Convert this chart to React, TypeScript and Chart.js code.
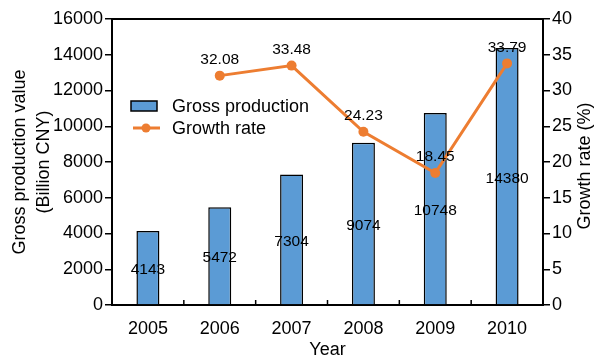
import React, { useEffect, useRef } from "react";
import { Chart, registerables } from "chart.js";

Chart.register(...registerables);

const years = ["2005", "2006", "2007", "2008", "2009", "2010"];
const grossProduction = [4143, 5472, 7304, 9074, 10748, 14380];
const growthRate: (number | null)[] = [null, 32.08, 33.48, 24.23, 18.45, 33.79];
const growthLabels = ["", "32.08", "33.48", "24.23", "18.45", "33.79"];
const barLabels = ["4143", "5472", "7304", "9074", "10748", "14380"];
const leftTitle = ["Gross production value", "(Billion CNY)"];
const rightTitle = "Growth rate (%)";

const BLUE = "#5B9BD5";
const ORANGE = "#ED7D31";
const FONT = "'Liberation Sans', Arial, sans-serif";

const decorPlugin = {
  id: "decor",
  afterDatasetsDraw(chart: any) {
    const ctx = chart.ctx;
    const { left, right, top, bottom } = chart.chartArea;
    const x = chart.scales.x;
    const yR = chart.scales.y1;
    const yL = chart.scales.y;
    ctx.save();
    // top frame line
    ctx.strokeStyle = "#000";
    ctx.lineWidth = 2;
    ctx.beginPath();
    ctx.moveTo(left, top);
    ctx.lineTo(right, top);
    ctx.stroke();
    // x ticks between categories, pointing inward
    const n = years.length;
    const step = (right - left) / n;
    ctx.lineWidth = 1.5;
    for (let i = 1; i < n; i++) {
      const px = x.getPixelForValue(i) - step / 2;
      ctx.beginPath();
      ctx.moveTo(px, bottom);
      ctx.lineTo(px, bottom - 5);
      ctx.stroke();
    }
    // bar value labels at bar center
    ctx.fillStyle = "#000";
    ctx.font = `15.5px ${FONT}`;
    ctx.textAlign = "center";
    ctx.textBaseline = "middle";
    grossProduction.forEach((v, i) => {
      const px = x.getPixelForValue(i);
      const py = (yL.getPixelForValue(v) + yL.getPixelForValue(0)) / 2;
      ctx.fillText(barLabels[i], px, py + 2);
    });
    // growth labels above points
    growthRate.forEach((v, i) => {
      if (v == null) return;
      const px = x.getPixelForValue(i);
      const py = yR.getPixelForValue(v);
      ctx.fillText(growthLabels[i], px, py - 16);
    });
    // legend
    const lx = left + 19;
    const ly1 = top + 87;
    const ly2 = top + 109;
    ctx.fillStyle = BLUE;
    ctx.fillRect(lx, ly1 - 5, 26, 10);
    ctx.strokeStyle = "#000";
    ctx.lineWidth = 1.5;
    ctx.strokeRect(lx, ly1 - 5, 26, 10);
    ctx.strokeStyle = ORANGE;
    ctx.lineWidth = 3;
    ctx.beginPath();
    ctx.moveTo(lx + 2, ly2);
    ctx.lineTo(lx + 29, ly2);
    ctx.stroke();
    ctx.fillStyle = ORANGE;
    ctx.beginPath();
    ctx.arc(lx + 15, ly2, 4.5, 0, Math.PI * 2);
    ctx.fill();
    ctx.fillStyle = "#000";
    ctx.font = `18px ${FONT}`;
    ctx.textAlign = "left";
    ctx.fillText("Gross production", lx + 41, ly1 + 1);
    ctx.fillText("Growth rate", lx + 41, ly2 + 1);
    // axis titles (both read bottom-to-top)
    const cy = (top + bottom) / 2;
    ctx.textAlign = "center";
    ctx.save();
    ctx.translate(left - 92, cy);
    ctx.rotate(-Math.PI / 2);
    ctx.fillText(leftTitle[0], 0, 0);
    ctx.fillText(leftTitle[1], 0, 24);
    ctx.restore();
    ctx.save();
    ctx.translate(right + 42, cy + 4);
    ctx.rotate(-Math.PI / 2);
    ctx.fillText(rightTitle, 0, 0);
    ctx.restore();
    ctx.restore();
  },
};

export default function App() {
  const ref = useRef<HTMLCanvasElement | null>(null);
  useEffect(() => {
    document.body.style.margin = "0";
    const c = ref.current!;
    const chart = new Chart(c, {
      type: "bar",
      data: {
        labels: years,
        datasets: [
          {
            type: "line",
            label: "Growth rate",
            data: growthRate,
            yAxisID: "y1",
            borderColor: ORANGE,
            backgroundColor: ORANGE,
            borderWidth: 3,
            pointRadius: 5,
            pointBackgroundColor: ORANGE,
            pointBorderWidth: 0,
            spanGaps: true,
            order: 0,
          } as any,
          {
            type: "bar",
            label: "Gross production",
            data: grossProduction,
            yAxisID: "y",
            backgroundColor: BLUE,
            borderColor: "#000",
            borderWidth: 1.5,
            barPercentage: 0.32,
            categoryPercentage: 1,
            order: 1,
          } as any,
        ],
      },
      options: {
        animation: false,
        responsive: false,
        devicePixelRatio: 1,
        layout: { padding: { top: 19, left: 0, right: 0, bottom: 0 } },
        plugins: { legend: { display: false }, tooltip: { enabled: false } },
        scales: {
          x: {
            grid: { display: false, drawTicks: false },
            border: { color: "#000", width: 2 },
            ticks: { color: "#000", font: { family: FONT, size: 18 }, padding: 13 },
            title: {
              display: true,
              text: "Year",
              color: "#000",
              font: { family: FONT, size: 18 },
              padding: { top: 6, bottom: 0 },
            },
            afterFit(scale: any) {
              scale.height = 56;
            },
          },
          y: {
            position: "left",
            min: 0,
            max: 16000,
            ticks: {
              stepSize: 2000,
              color: "#000",
              font: { family: FONT, size: 18 },
              padding: 2,
              callback: (v: any) => String(v),
            },
            grid: { drawOnChartArea: false, tickLength: 7, color: "#000", lineWidth: 1.5 },
            border: { color: "#000", width: 2 },
            afterFit(scale: any) {
              scale.width = 112;
            },
          },
          y1: {
            position: "right",
            min: 0,
            max: 40,
            ticks: {
              stepSize: 5,
              color: "#000",
              font: { family: FONT, size: 18 },
              padding: 2,
              callback: (v: any) => String(v),
            },
            grid: { drawOnChartArea: false, tickLength: 7, color: "#000", lineWidth: 1.5 },
            border: { color: "#000", width: 2 },
            afterFit(scale: any) {
              scale.width = 55;
            },
          },
        },
      },
      plugins: [decorPlugin],
    });
    return () => chart.destroy();
  }, []);
  return (
    <div style={{ width: 598, height: 361 }}>
      <canvas ref={ref} width={598} height={361} style={{ display: "block" }} />
    </div>
  );
}
